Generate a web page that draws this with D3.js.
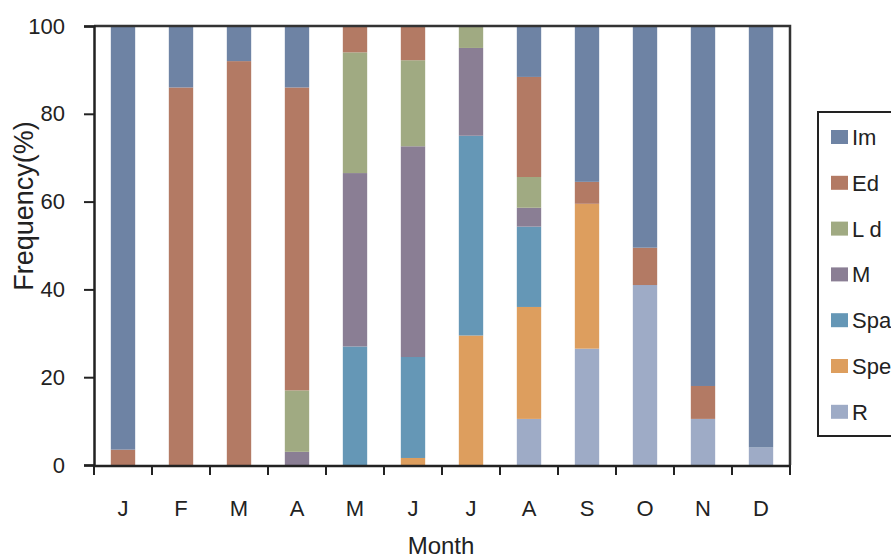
<!DOCTYPE html>
<html>
<head>
<meta charset="utf-8">
<script src="https://cdn.jsdelivr.net/npm/d3@7"></script>
<style>
  body { margin: 0; background: #fff; }
  svg text { font-family: "Liberation Sans", Arial, sans-serif; fill: #222; }
</style>
</head>
<body>
<svg id="chart" width="891" height="559"></svg>
<script>
// month labels along the x axis
const months = ['J', 'F', 'M', 'A', 'M', 'J', 'J', 'A', 'S', 'O', 'N', 'D'];

// stage frequencies (%) per month
const Im  = [96.5, 14, 8, 14, 0, 0, 0, 11.6, 35.5, 50.5, 82, 96];
const Ed  = [3.5, 86, 92, 69, 6, 7.8, 0, 22.8, 5, 8.5, 7.5, 0];
const Ld  = [0, 0, 0, 14, 27.5, 19.6, 5, 7, 0, 0, 0, 0];
const M   = [0, 0, 0, 3, 39.5, 48, 20, 4.3, 0, 0, 0, 0];
const Spa = [0, 0, 0, 0, 27, 23, 45.5, 18.3, 0, 0, 0, 0];
const Spe = [0, 0, 0, 0, 0, 1.6, 29.5, 25.5, 33, 0, 0, 0];
const R   = [0, 0, 0, 0, 0, 0, 0, 10.5, 26.5, 41, 10.5, 4];

const seriesNames = ['Im', 'Ed', 'Ld', 'M', 'Spa', 'Spe', 'R'];      // legend order (top to bottom)
const stackOrder = ['R', 'Spe', 'Spa', 'M', 'Ld', 'Ed', 'Im'];       // bottom to top
const yTicks = [0, 20, 40, 60, 80, 100];

const colors = {
    Im: '#6e83a4', Ed: '#b37a64', Ld: '#a0aa82', M: '#8a7e94',
    Spa: '#6597b6', Spe: '#dd9e5e', R: '#9eabc6'
};

const seriesData = { Im: Im, Ed: Ed, Ld: Ld, M: M, Spa: Spa, Spe: Spe, R: R };

// build table rows for d3.stack
let rows = months.map((m, i) => {
    let row = { idx: i };
    seriesNames.forEach(s => { row[s] = seriesData[s][i]; });
    return row;
});

const svg = d3.select('#chart');
const plotLeft = 94, plotRight = 790, plotTop = 26, plotBottom = 465;

const x = d3.scaleBand()
    .domain(d3.range(months.length))
    .range([plotLeft, plotRight])
    .paddingInner(0.58)
    .paddingOuter(0.29);

const y = d3.scaleLinear().domain([0, 100]).range([plotBottom, plotTop]);

const stacked = d3.stack().keys(stackOrder)(rows);

// bars
svg.append('g')
    .selectAll('g')
    .data(stacked)
    .enter().append('g')
    .attr('fill', d => colors[d.key])
    .selectAll('rect')
    .data(d => d)
    .enter().append('rect')
    .attr('x', d => x(d.data.idx))
    .attr('width', x.bandwidth())
    .attr('y', d => y(d[1]))
    .attr('height', d => y(d[0]) - y(d[1]));

// frame: top and right borders
svg.append('path')
    .attr('d', `M${plotLeft},${plotTop}H${plotRight}V${plotBottom}`)
    .attr('fill', 'none')
    .attr('stroke', '#333')
    .attr('stroke-width', 2.5);

// y axis
const yAxis = svg.append('g')
    .attr('transform', `translate(${plotLeft},0)`)
    .call(d3.axisLeft(y).tickValues(yTicks).tickSize(10).tickPadding(19));
yAxis.select('.domain').attr('stroke', '#222').attr('stroke-width', 2.5);
yAxis.selectAll('.tick line').attr('stroke', '#222').attr('stroke-width', 2);
yAxis.selectAll('.tick text')
    .style('font-size', '22px')
    .attr('fill', '#222');

// x axis: ticks at band boundaries, labels at band centres
const xAxisG = svg.append('g');
xAxisG.append('line')
    .attr('x1', plotLeft).attr('x2', plotRight)
    .attr('y1', plotBottom + 1).attr('y2', plotBottom + 1)
    .attr('stroke', '#222').attr('stroke-width', 2.5);
xAxisG.selectAll('line.tick')
    .data(d3.range(months.length + 1))
    .enter().append('line')
    .attr('class', 'tick')
    .attr('x1', i => plotLeft + i * x.step())
    .attr('x2', i => plotLeft + i * x.step())
    .attr('y1', plotBottom)
    .attr('y2', plotBottom + 10)
    .attr('stroke', '#222').attr('stroke-width', 2);
xAxisG.selectAll('text')
    .data(months)
    .enter().append('text')
    .attr('x', (d, i) => x(i) + x.bandwidth() / 2)
    .attr('y', 516)
    .attr('text-anchor', 'middle')
    .style('font-size', '22px')
    .text(d => d);

// axis titles
svg.append('text')
    .attr('x', 441)
    .attr('y', 554)
    .attr('text-anchor', 'middle')
    .style('font-size', '24px')
    .text('Month');

svg.append('text')
    .attr('transform', 'translate(33,206) rotate(-90)')
    .attr('text-anchor', 'middle')
    .style('font-size', '27px')
    .text('Frequency(%)');

// legend
const legend = svg.append('g');
legend.append('rect')
    .attr('x', 818).attr('y', 112)
    .attr('width', 100).attr('height', 324)
    .attr('fill', 'none')
    .attr('stroke', '#222')
    .attr('stroke-width', 2);

const item = legend.selectAll('g.item')
    .data(seriesNames)
    .enter().append('g')
    .attr('class', 'item')
    .attr('transform', (d, i) => `translate(831,${137 + i * 45.8})`);

item.append('rect')
    .attr('x', 0).attr('y', -7)
    .attr('width', 17).attr('height', 14)
    .attr('fill', d => colors[d]);

item.append('text')
    .attr('x', 21)
    .attr('y', 8)
    .style('font-size', '22px')
    .text(d => d === 'Ld' ? 'L d' : d);
</script>
</body>
</html>
